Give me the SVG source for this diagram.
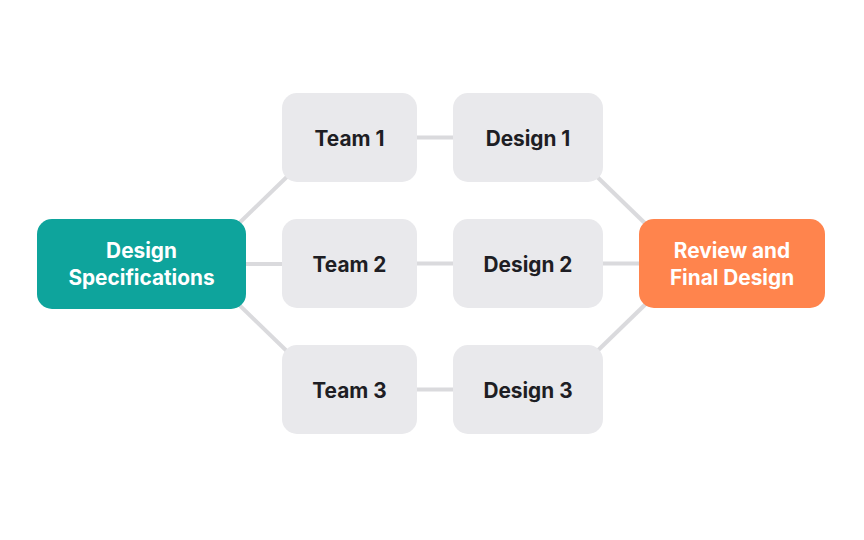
<svg xmlns="http://www.w3.org/2000/svg" width="864" height="540" viewBox="0 0 864 540">
<style>
.edge{stroke:#dadadd;stroke-width:4;fill:none}
.box{fill:#e9e9ec}
.lbl{font-family:Inter,"Liberation Sans",sans-serif;font-weight:700;font-size:20.8px;text-anchor:middle;dominant-baseline:central}
.dark{fill:#1e1e24}
.light{fill:#ffffff}
</style>
<rect width="864" height="540" fill="#ffffff"/>
<g id="connectors">
<line class="edge" x1="230" y1="232" x2="296" y2="168"/>
<line class="edge" x1="230" y1="296" x2="296" y2="360"/>
<line class="edge" x1="240" y1="264" x2="290" y2="264"/>
<line class="edge" x1="410" y1="137.5" x2="460" y2="137.5"/>
<line class="edge" x1="410" y1="263.5" x2="460" y2="263.5"/>
<line class="edge" x1="410" y1="389.5" x2="460" y2="389.5"/>
<line class="edge" x1="596" y1="263.5" x2="646" y2="263.5"/>
<line class="edge" x1="588" y1="168" x2="654" y2="232"/>
<line class="edge" x1="588" y1="360" x2="654" y2="296"/>
</g>
<g id="spec">
<rect x="37" y="219" width="209" height="90" rx="15" fill="#0ea49c"/>
<text class="lbl light" x="141.5" y="250.5">Design</text>
<text class="lbl light" x="141.5" y="277.5">Specifications</text>
</g>
<g id="team1">
<rect class="box" x="282" y="93" width="135" height="89" rx="15"/>
<text class="lbl dark" x="349.5" y="138">Team 1</text>
</g>
<g id="team2">
<rect class="box" x="282" y="219" width="135" height="89" rx="15"/>
<text class="lbl dark" x="349.5" y="264">Team 2</text>
</g>
<g id="team3">
<rect class="box" x="282" y="345" width="135" height="89" rx="15"/>
<text class="lbl dark" x="349.5" y="390">Team 3</text>
</g>
<g id="design1">
<rect class="box" x="453" y="93" width="150" height="89" rx="15"/>
<text class="lbl dark" x="528" y="138">Design 1</text>
</g>
<g id="design2">
<rect class="box" x="453" y="219" width="150" height="89" rx="15"/>
<text class="lbl dark" x="528" y="264">Design 2</text>
</g>
<g id="design3">
<rect class="box" x="453" y="345" width="150" height="89" rx="15"/>
<text class="lbl dark" x="528" y="390">Design 3</text>
</g>
<g id="review">
<rect x="639" y="219" width="186" height="89" rx="15" fill="#ff844d"/>
<text class="lbl light" x="732" y="250.5">Review and</text>
<text class="lbl light" x="732" y="277.5">Final Design</text>
</g>
</svg>
